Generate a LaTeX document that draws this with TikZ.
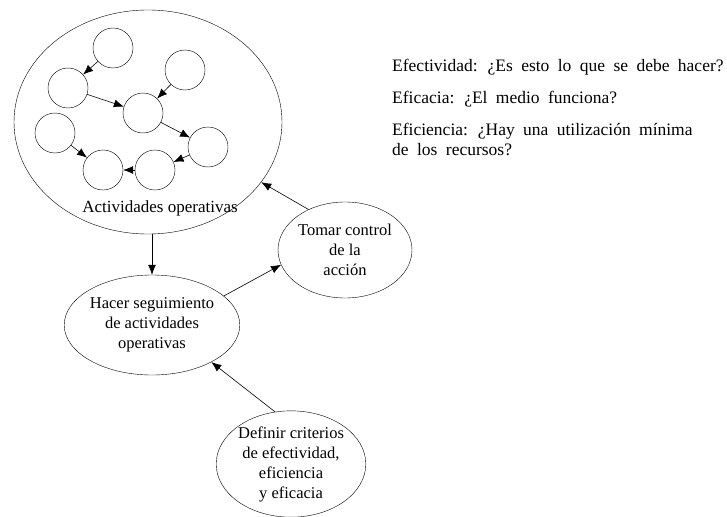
\documentclass[tikz,border=0pt]{standalone}
\usepackage{fontspec}
\setmainfont{Liberation Serif}
\usepackage{tikz}
\usetikzlibrary{arrows.meta,shapes.geometric}

\begin{document}
\begin{tikzpicture}[x=1pt,y=-1pt,>={Latex[length=10pt,width=8pt]},
  every node/.style={font=\fontsize{16.5}{20}\selectfont},
  elipse/.style={draw,ellipse,inner sep=0pt,align=center},
  circulo/.style={draw,circle,inner sep=0pt,minimum size=40pt},
  pregunta/.style={anchor=base west,inner sep=0pt,align=left,
    font={\fontsize{17.5}{20}\selectfont\spaceskip=8.4pt\relax}},
  flecha/.style={->,line width=0.6pt}]
  \useasboundingbox (0,0) rectangle (727,516);
  % Actividades operativas
  \node[elipse,minimum width=268pt,minimum height=224pt] (act) at (148,122) {};
  \node[font=\fontsize{17}{20}\selectfont] (actlabel) at (160,208)
    {Actividades operativas};
  \foreach \n/\p in {c1/{113,48},c2/{68,88},c3/{185,70},c4/{143,113},
                     c5/{55,133},c6/{208,147},c7/{103,170},c8/{155,170}} {
    \node[circulo] (\n) at (\p) {};
  }
  \foreach \a/\b in {c1/c2,c3/c4,c2/c4,c4/c6,c5/c7,c6/c8,c8/c7} {
    \draw[flecha] (\a) -- (\b);
  }
  % Ciclo de control
  \node[elipse,minimum width=134pt,minimum height=96pt] (tomar) at (345,250)
    {Tomar control\\de la\\acción};
  \node[elipse,minimum width=161pt,minimum height=100pt] (hacer) at (152,325)
    {Hacer seguimiento\\de actividades\\operativas};
  \node[elipse,minimum width=122pt,minimum height=104pt] (definir) at (291,464)
    {Definir criterios\\de efectividad,\\eficiencia\\y eficacia};
  \draw[flecha] (act.south -| hacer.north) -- (hacer.north);
  \draw[flecha] (hacer.22) -- (tomar.193);
  \draw[flecha] (tomar.132) -- (act.-28);
  \draw[flecha] (definir.107) -- (hacer.-32);
  % Preguntas
  \node[pregunta] (efectividad) at (392,72)
    {Efectividad: ¿Es esto lo que se debe hacer?};
  \node[pregunta] (eficacia) at (392,103)
    {Eficacia: ¿El medio funciona?};
  \node[pregunta] (eficiencia) at (392,155)
    {Eficiencia: ¿Hay una utilización mínima\\de los recursos?};
\end{tikzpicture}
\end{document}
